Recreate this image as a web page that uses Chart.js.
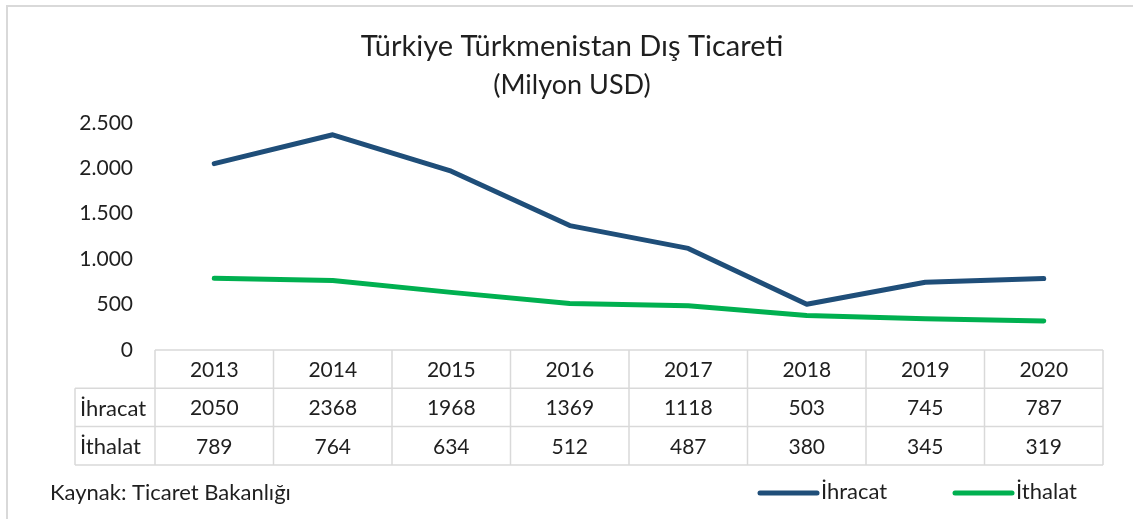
<!DOCTYPE html>
<html>
<head>
<meta charset="utf-8">
<script src="https://cdn.jsdelivr.net/npm/chart.js@4"></script>
<style>
  html, body { margin: 0; padding: 0; background: #ffffff; }
  #wrap { width: 1133px; height: 519px; position: relative; }
</style>
</head>
<body>
<div id="wrap"><canvas id="c" width="1133" height="519"></canvas></div>
<script>
const years = ['2013', '2014', '2015', '2016', '2017', '2018', '2019', '2020'];
const ihracat = [2050, 2368, 1968, 1369, 1118, 503, 745, 787];
const ithalat = [789, 764, 634, 512, 487, 380, 345, 319];
const seriesNames = ['İhracat', 'İthalat'];
const yTicks = [0, 500, 1000, 1500, 2000, 2500];
const titleText = 'Türkiye Türkmenistan Dış Ticareti';
const subtitleText = '(Milyon USD)';
const sourceText = 'Kaynak: Ticaret Bakanlığı';

const FONT = 'Lato, "Open Sans", sans-serif';
const TXT = '#1f1f1f';
const GRID = '#d9d9d9';
const BLUE = '#1f4e79';
const GREEN = '#00b050';

function fmt(v) { return v.toString().replace(/\B(?=(\d{3})+(?!\d))/g, '.'); }

const extras = {
  id: 'extras',
  beforeDraw(chart) {
    const ctx = chart.ctx;
    ctx.save();
    ctx.fillStyle = '#ffffff';
    ctx.fillRect(0, 0, chart.width, chart.height);
    ctx.strokeStyle = '#d9d9d9';
    ctx.lineWidth = 2;
    ctx.strokeRect(7, 6, 1300, 700);
    ctx.restore();
  },
  afterDraw(chart) {
    const ctx = chart.ctx;
    const x = chart.scales.x;
    const area = chart.chartArea;
    const n = years.length;
    const step = (area.right - area.left) / n;
    const top = area.bottom;
    const rowH = 38.3;
    const labelLeft = 75;
    ctx.save();
    ctx.strokeStyle = GRID;
    ctx.lineWidth = 1.5;
    ctx.beginPath();
    ctx.moveTo(area.left, top); ctx.lineTo(area.right, top);
    for (let r = 1; r <= 3; r++) {
      ctx.moveTo(labelLeft, top + r * rowH); ctx.lineTo(area.right, top + r * rowH);
    }
    ctx.moveTo(labelLeft, top + rowH); ctx.lineTo(labelLeft, top + 3 * rowH);
    for (let i = 0; i <= n; i++) {
      const xx = area.left + i * step;
      ctx.moveTo(xx, top); ctx.lineTo(xx, top + 3 * rowH);
    }
    ctx.stroke();

    ctx.fillStyle = TXT;
    ctx.font = '21px ' + FONT;
    ctx.textBaseline = 'middle';
    ctx.textAlign = 'center';
    const rows = [years, ihracat, ithalat];
    for (let r = 0; r < 3; r++) {
      const cy = top + r * rowH + rowH / 2 + 1;
      for (let i = 0; i < n; i++) {
        ctx.fillText(String(rows[r][i]), x.getPixelForValue(i), cy);
      }
    }
    ctx.textAlign = 'left';
    ctx.font = '22px ' + FONT;
    ctx.fillText(seriesNames[0], 80, top + 1.5 * rowH + 1);
    ctx.fillText(seriesNames[1], 80, top + 2.5 * rowH + 1);

    ctx.font = '22px ' + FONT;
    ctx.fillText(sourceText, 50, 493);

    const legendItems = [
      { name: seriesNames[0], color: BLUE, x0: 760 },
      { name: seriesNames[1], color: GREEN, x0: 955 }
    ];
    ctx.font = '22px ' + FONT;
    ctx.lineCap = 'round';
    legendItems.forEach(it => {
      ctx.strokeStyle = it.color;
      ctx.lineWidth = 5;
      ctx.beginPath();
      ctx.moveTo(it.x0, 493); ctx.lineTo(it.x0 + 57, 493);
      ctx.stroke();
      ctx.fillStyle = TXT;
      ctx.fillText(it.name, it.x0 + 61, 492);
    });
    ctx.restore();
  }
};

new Chart(document.getElementById('c'), {
  type: 'line',
  data: {
    labels: years,
    datasets: [
      { label: seriesNames[0], data: ihracat, borderColor: BLUE, backgroundColor: BLUE, borderWidth: 5, pointRadius: 0, tension: 0, borderCapStyle: 'round', borderJoinStyle: 'round' },
      { label: seriesNames[1], data: ithalat, borderColor: GREEN, backgroundColor: GREEN, borderWidth: 5, pointRadius: 0, tension: 0, borderCapStyle: 'round', borderJoinStyle: 'round' }
    ]
  },
  options: {
    responsive: false,
    animation: false,
    devicePixelRatio: 1,
    layout: { padding: { left: 41, right: 30, top: 0, bottom: 169 } },
    plugins: {
      legend: { display: false },
      tooltip: { enabled: false },
      title: {
        display: true, text: titleText, color: TXT,
        font: { family: FONT, size: 29, weight: 'normal', lineHeight: 1.2 },
        padding: { top: 29.6, bottom: 0 }
      },
      subtitle: {
        display: true, text: subtitleText, color: TXT,
        font: { family: FONT, size: 27, weight: 'normal', lineHeight: 1.2 },
        padding: { top: 4.4, bottom: 21.6 }
      }
    },
    scales: {
      x: {
        type: 'category', offset: true, display: false,
        grid: { display: false }
      },
      y: {
        min: 0, max: 2500,
        afterBuildTicks(scale) { scale.ticks = yTicks.map(v => ({ value: v })); },
        afterFit(scale) { scale.width = 114; },
        grid: { display: false, drawTicks: false },
        border: { display: false },
        ticks: {
          color: TXT, padding: 22,
          font: { family: FONT, size: 21 },
          callback: v => fmt(v)
        }
      }
    }
  },
  plugins: [extras]
});
</script>
</body>
</html>
